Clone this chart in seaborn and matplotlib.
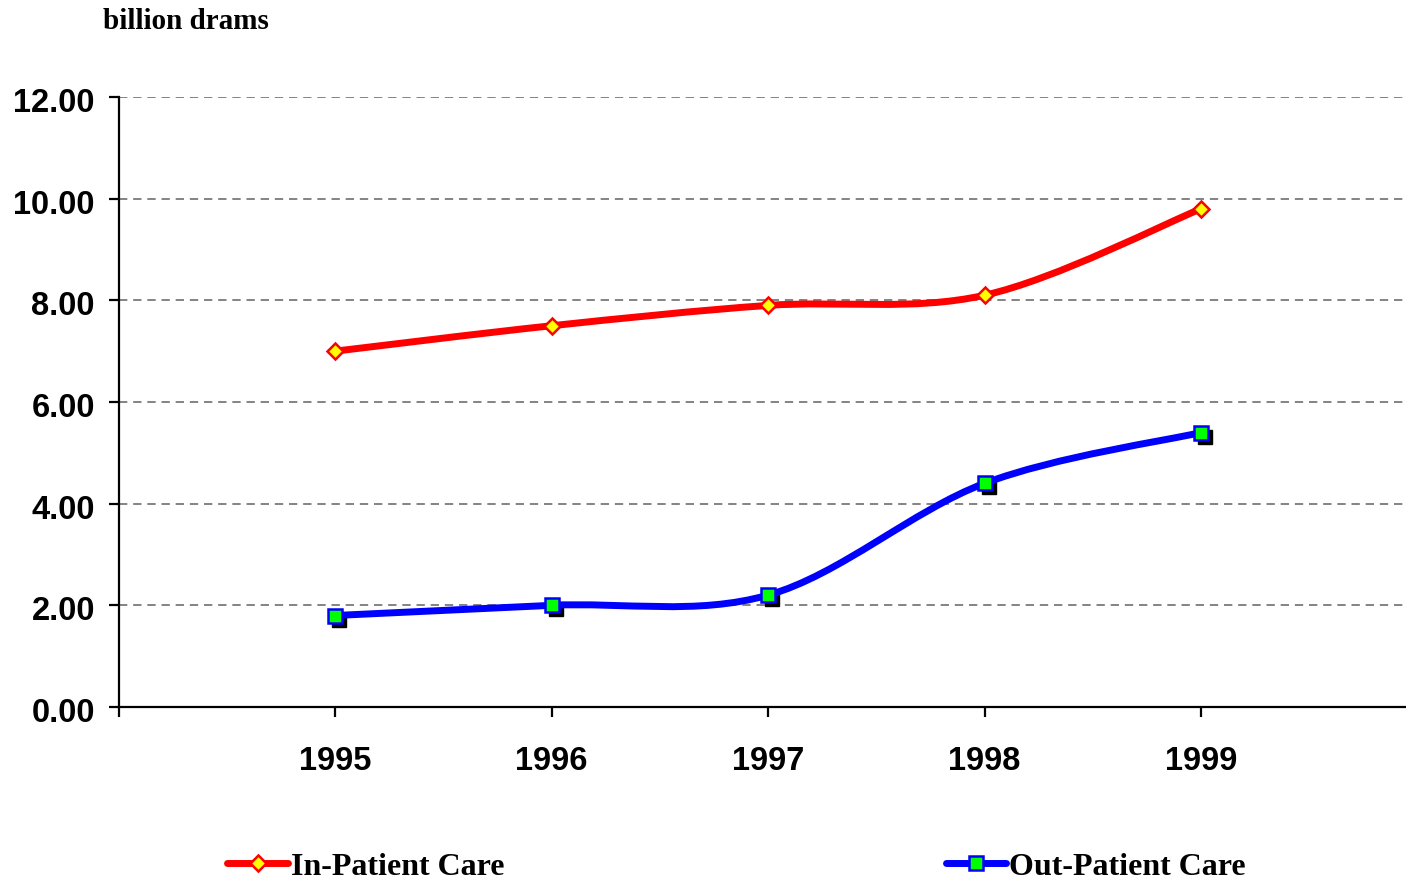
import numpy as np
import matplotlib
matplotlib.use("Agg")
import matplotlib.pyplot as plt
import seaborn as sns
from matplotlib.path import Path
from matplotlib.patches import PathPatch
from matplotlib.lines import Line2D
from matplotlib.transforms import ScaledTranslation

# data
years = [1995, 1996, 1997, 1998, 1999]
in_patient = [7.0, 7.5, 7.9, 8.1, 9.8]
out_patient = [1.8, 2.0, 2.2, 4.4, 5.4]
y_ticks = [0, 2, 4, 6, 8, 10, 12]
series_names = ["In-Patient Care", "Out-Patient Care"]

sns.set_style("white")
plt.rcParams["font.family"] = ["Liberation Sans", "DejaVu Sans"]
plt.rcParams["text.color"] = "black"
plt.rcParams["xtick.color"] = "black"
plt.rcParams["ytick.color"] = "black"

DPI = 100
fig = plt.figure(figsize=(14.06, 8.81), dpi=DPI)
ax = fig.add_axes([118.5 / 1406, 1 - 707 / 881, 1 - 118.5 / 1406, (707 - 97) / 881])


def smooth_path(x, y):
    # Excel-style smoothed line: Catmull-Rom segments as cubic Bezier curves
    x = np.asarray(x, float)
    y = np.asarray(y, float)
    px = np.concatenate([[x[0]], x, [x[-1]]])
    py = np.concatenate([[y[0]], y, [y[-1]]])
    verts = [(x[0], y[0])]
    codes = [Path.MOVETO]
    for i in range(1, len(x)):
        c1 = (px[i] + (px[i + 1] - px[i - 1]) / 6, py[i] + (py[i + 1] - py[i - 1]) / 6)
        c2 = (px[i + 1] - (px[i + 2] - px[i]) / 6, py[i + 1] - (py[i + 2] - py[i]) / 6)
        verts += [c1, c2, (px[i + 1], py[i + 1])]
        codes += [Path.CURVE4] * 3
    return Path(verts, codes)


LW = 5.0
ax.add_patch(PathPatch(smooth_path(years, in_patient), fill=False,
                       edgecolor="#ff0000", lw=LW, zorder=3, capstyle="round"))
ax.add_patch(PathPatch(smooth_path(years, out_patient), fill=False,
                       edgecolor="#0000ff", lw=LW, zorder=3, capstyle="round"))

# shadow behind the out-patient markers
shadow = ax.transData + ScaledTranslation(4 / DPI, -4 / DPI, fig.dpi_scale_trans)
ax.plot(years, out_patient, ls="none", marker="s", ms=10.5, color="black",
        transform=shadow, zorder=2.5)

ax.plot(years, in_patient, ls="none", marker="D", ms=8, mfc="#ffff00",
        mec="#ff0000", mew=1.8, zorder=4)
ax.plot(years, out_patient, ls="none", marker="s", ms=10.5, mfc="#00ff00",
        mec="#0000ff", mew=1.8, zorder=4)

ax.set_xlim(1994, 1994 + (1406 - 118.5) / 216.5)
ax.set_ylim(0, 12)
ax.set_yticks(y_ticks)
ax.set_yticklabels([f"{v:.2f}" for v in y_ticks])
ax.set_xticks([1994] + years)
ax.set_xticklabels([""] + [str(y) for y in years])

for spine in ["top", "right"]:
    ax.spines[spine].set_visible(False)
for spine in ["left", "bottom"]:
    ax.spines[spine].set_color("black")
    ax.spines[spine].set_linewidth(1.6)

ax.tick_params(axis="both", direction="out", length=7, width=1.6, color="black",
               labelcolor="black", bottom=True, left=True)
ax.tick_params(axis="y", pad=10, labelsize=23.5)
ax.tick_params(axis="x", pad=21, labelsize=23.5)
down = ScaledTranslation(0, -3 / DPI, fig.dpi_scale_trans)
for lab in ax.get_yticklabels():
    lab.set_fontweight("bold")
    lab.set_transform(lab.get_transform() + down)
for lab in ax.get_xticklabels():
    lab.set_fontweight("bold")

ax.yaxis.grid(True, color="#6e6e6e", ls=(0, (5, 3.5)), lw=1.2)
ax.xaxis.grid(False)
ax.set_axisbelow(True)

fig.text(103 / 1406, 1 - 29 / 881, "billion drams", family="Liberation Serif",
         fontweight="bold", fontsize=21, va="baseline", ha="left", color="black")

handles = [
    Line2D([], [], color="#ff0000", lw=LW, marker="D", ms=8, mfc="#ffff00",
           mec="#ff0000", mew=1.8),
    Line2D([], [], color="#0000ff", lw=LW, marker="s", ms=10.5, mfc="#00ff00",
           mec="#0000ff", mew=1.8),
]
leg = fig.legend(handles, series_names, loc="center", bbox_to_anchor=(0.524, 0.016),
                 ncol=2, frameon=False, handlelength=1.9, handletextpad=0.1,
                 columnspacing=13.8, prop={"family": "Liberation Serif",
                                           "weight": "bold", "size": 23})
for t in leg.get_texts():
    t.set_color("black")

fig.savefig("out.png", dpi=DPI)
